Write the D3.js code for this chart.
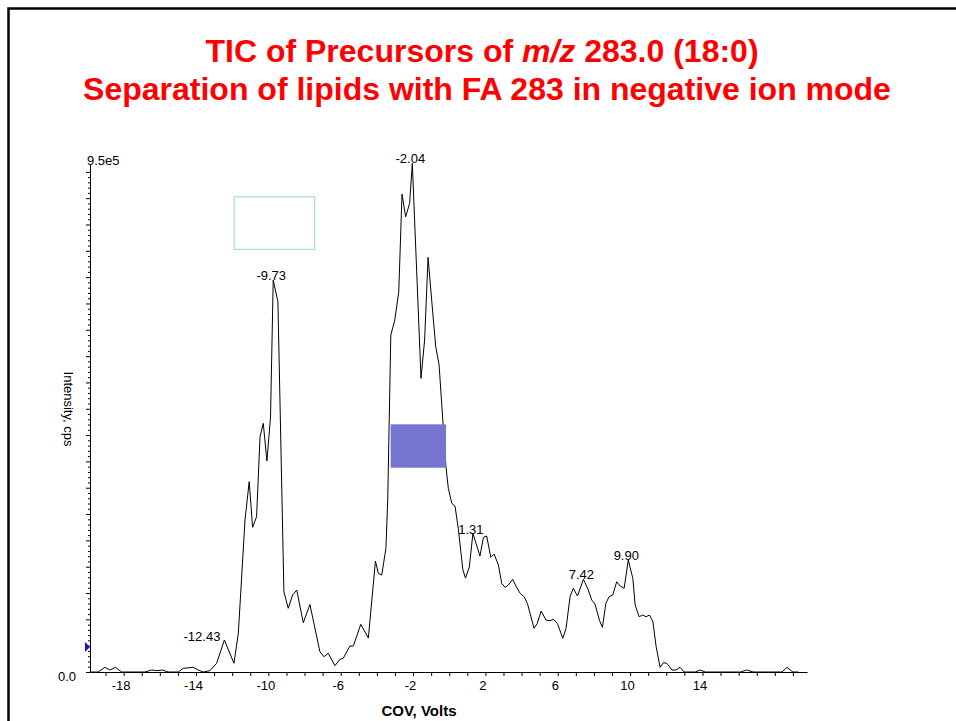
<!DOCTYPE html>
<html>
<head>
<meta charset="utf-8">
<script src="https://cdn.jsdelivr.net/npm/d3@7"></script>
<style>
  body { margin: 0; background: #fff; }
  svg { display: block; font-family: Arial, "Liberation Sans", sans-serif; }
</style>
</head>
<body>
<svg id="tic_view" width="956" height="721"></svg>
<script>
// COV (volts) and TIC intensity (cps)
let cov = [-19.87, -19.41, -19.04, -18.76, -18.45, -18.11, -16.83, -16.45, -16.18, -15.85,
  -15.54, -14.98, -14.71, -14.15, -13.88, -13.60, -13.23, -12.86, -12.43, -11.90,
  -11.66, -11.29, -11.06, -10.87, -10.65, -10.46, -10.28, -10.08, -9.88, -9.73,
  -9.47, -9.14, -8.90, -8.66, -8.43, -8.07, -7.70, -7.15, -6.92, -6.69,
  -6.32, -6.04, -5.86, -5.49, -5.30, -4.89, -4.47, -4.08, -3.92, -3.73,
  -3.50, -3.40, -3.23, -3.01, -2.79, -2.61, -2.41, -2.19, -2.04, -1.56,
  -1.36, -1.17, -0.97, -0.75, -0.56, -0.43, -0.18, -0.05, 0.14, 0.32,
  0.50, 0.75, 0.90, 1.11, 1.31, 1.70, 1.89, 2.07, 2.30, 2.48,
  2.72, 2.90, 3.09, 3.27, 3.51, 3.69, 3.92, 4.14, 4.32, 4.69,
  4.87, 5.08, 5.35, 5.57, 5.76, 5.98, 6.28, 6.46, 6.68, 6.86,
  7.09, 7.42, 7.69, 7.88, 8.06, 8.30, 8.47, 8.66, 8.84, 9.04,
  9.26, 9.45, 9.67, 9.90, 10.15, 10.28, 10.50, 10.70, 10.88, 11.07,
  11.26, 11.44, 11.66, 11.84, 12.03, 12.31, 12.54, 12.76, 12.99, 13.60,
  13.87, 14.15, 16.10, 16.45, 16.80, 18.40, 18.67, 19.00, 19.30];

let intensity = [0, 0, 8900, 3800, 8900, 0, 0, 3800, 2500, 3800,
  0, 0, 7000, 8900, 3800, 0, 2500, 16500, 60800, 16500,
  73500, 288700, 361400, 274800, 294900, 446800, 472300, 400700, 484200, 744400,
  703200, 152500, 121000, 146200, 155700, 93600, 128200, 38500, 29000, 35500,
  12000, 24100, 26000, 49400, 49400, 90600, 64500, 210800, 187400, 184200,
  234900, 326600, 640000, 668400, 722200, 907700, 864600, 890000, 966000, 557800,
  630500, 787500, 706400, 619100, 583000, 516500, 389900, 348900, 320400, 315200,
  272900, 195000, 178300, 199400, 263000, 220300, 255800, 258300, 217800, 224100,
  203200, 168400, 160800, 165200, 176000, 163300, 149400, 143000, 130500, 83000,
  92500, 115800, 98700, 97400, 100100, 92500, 64000, 83000, 143000, 159000,
  144300, 176000, 155700, 136700, 129100, 98700, 84900, 130500, 143000, 146200,
  171500, 163300, 158900, 212700, 177900, 127200, 105000, 108200, 105000, 108200,
  95500, 48000, 8900, 17700, 16500, 3800, 3800, 8900, 0, 0,
  3800, 0, 0, 3800, 0, 0, 8900, 0, 0];

// labelled peaks
let peak_cov = [-12.43, -9.73, -2.04, 1.31, 7.42, 9.90];
let peak_labels = ['-12.43', '-9.73', '-2.04', '1.31', '7.42', '9.90'];

let x_tick_values = d3.range(-19, 20);
let x_tick_labels = [-18, -14, -10, -6, -2, 2, 6, 10, 14];

// annotation boxes, in data coords
let open_box = {x0: -11.89, x1: -7.44, y0: 802700, y1: 902600};
let filled_box = {x0: -3.24, x1: -0.18, y0: 388000, y1: 470400};
let threshold_level = 47500;

let title_line1 = ['TIC of Precursors of ', 'm/z', ' 283.0 (18:0)'];
let title_line2 = 'Separation of lipids with FA 283 in negative ion mode';

let svg = d3.select('#tic_view');

let x = d3.scaleLinear()
  .domain([-19.86, 19.78])
  .range([90, 807]);

let y = d3.scaleLinear()
  .domain([0, 963000])
  .range([672, 165]);

// slide frame
svg.append('path')
  .attr('d', 'M8.5,721 V8.5 H956')
  .attr('fill', 'none')
  .attr('stroke', '#000')
  .attr('stroke-width', 2.5);

// title
let t1 = svg.append('text')
  .attr('x', 482)
  .attr('y', 62)
  .attr('text-anchor', 'middle')
  .style('font-size', '32px')
  .style('font-weight', 'bold')
  .style('fill', '#ff0000');
t1.selectAll('tspan')
  .data(title_line1)
  .enter().append('tspan')
  .style('font-style', (d, i) => i == 1 ? 'italic' : 'normal')
  .text(d => d);

svg.append('text')
  .attr('x', 487)
  .attr('y', 100)
  .attr('text-anchor', 'middle')
  .style('font-size', '32px')
  .style('font-weight', 'bold')
  .style('fill', '#ff0000')
  .text(title_line2);

// x axis
let x_axis = d3.axisBottom(x)
  .tickValues(x_tick_values)
  .tickSize(4)
  .tickSizeOuter(0)
  .tickFormat(d => x_tick_labels.includes(d) ? d : '');

let gx = svg.append('g')
  .attr('transform', 'translate(0,672)')
  .call(x_axis);
gx.selectAll('text')
  .attr('dx', -3)
  .attr('y', 9)
  .style('font-size', '13px')
  .style('font-family', 'Arial, "Liberation Sans", sans-serif')
  .style('fill', '#000');
gx.selectAll('line, path').attr('stroke', '#000');

// y axis, major every 5e4 and minor every 1e4
let y_axis = d3.axisLeft(y)
  .tickValues(d3.range(0, 960000, 10000))
  .tickSizeOuter(0)
  .tickFormat('');

let gy = svg.append('g')
  .attr('transform', 'translate(90,0)')
  .call(y_axis);
gy.selectAll('.tick line')
  .attr('x2', d => d % 50000 == 0 ? -4 : -2)
  .attr('stroke', '#000');
gy.select('.domain')
  .attr('stroke', '#000')
  .attr('d', `M0.5,${y(963000)}V${y(0)}`);

svg.append('text')
  .attr('x', 87)
  .attr('y', 165)
  .style('font-size', '13px')
  .text('9.5e5');

svg.append('text')
  .attr('x', 76)
  .attr('y', 681)
  .attr('text-anchor', 'end')
  .style('font-size', '13px')
  .text('0.0');

svg.append('text')
  .attr('transform', 'translate(64,409) rotate(90)')
  .attr('text-anchor', 'middle')
  .style('font-size', '13px')
  .text('Intensity, cps');

svg.append('text')
  .attr('x', 419)
  .attr('y', 716)
  .attr('text-anchor', 'middle')
  .style('font-size', '15px')
  .style('font-weight', 'bold')
  .text('COV, Volts');

// threshold marker
let ty = y(threshold_level);
svg.append('path')
  .attr('d', `M85,${ty - 5}L90,${ty}L85,${ty + 5}Z`)
  .attr('fill', '#1414c8');

// trace
let points = cov.map((c, i) => [c, intensity[i]]);
let line = d3.line()
  .x(d => x(d[0]))
  .y(d => y(d[1]));

svg.append('path')
  .datum(points)
  .attr('d', line)
  .attr('fill', 'none')
  .attr('stroke', '#000')
  .attr('stroke-width', 1);

// annotation boxes
svg.append('rect')
  .attr('x', x(open_box.x0))
  .attr('y', y(open_box.y1))
  .attr('width', x(open_box.x1) - x(open_box.x0))
  .attr('height', y(open_box.y0) - y(open_box.y1))
  .attr('fill', 'none')
  .attr('stroke', '#a6dbdc')
  .attr('stroke-width', 1.2);

svg.append('rect')
  .attr('x', x(filled_box.x0))
  .attr('y', y(filled_box.y1))
  .attr('width', x(filled_box.x1) - x(filled_box.x0))
  .attr('height', y(filled_box.y0) - y(filled_box.y1))
  .attr('fill', '#7575d1');

// peak labels
let peak_pts = peak_cov.map(c => [c, intensity[cov.indexOf(c)]]);
svg.selectAll('.peak-label')
  .data(peak_pts)
  .enter().append('text')
  .attr('class', 'peak-label')
  .attr('x', (d, i) => i == 0 ? x(d[0]) - 4 : x(d[0]) - 2)
  .attr('y', (d, i) => i == 0 ? y(d[1]) + 1 : y(d[1]) + 0)
  .attr('text-anchor', (d, i) => i == 0 ? 'end' : 'middle')
  .style('font-size', '13px')
  .text((d, i) => peak_labels[i]);
</script>
</body>
</html>
